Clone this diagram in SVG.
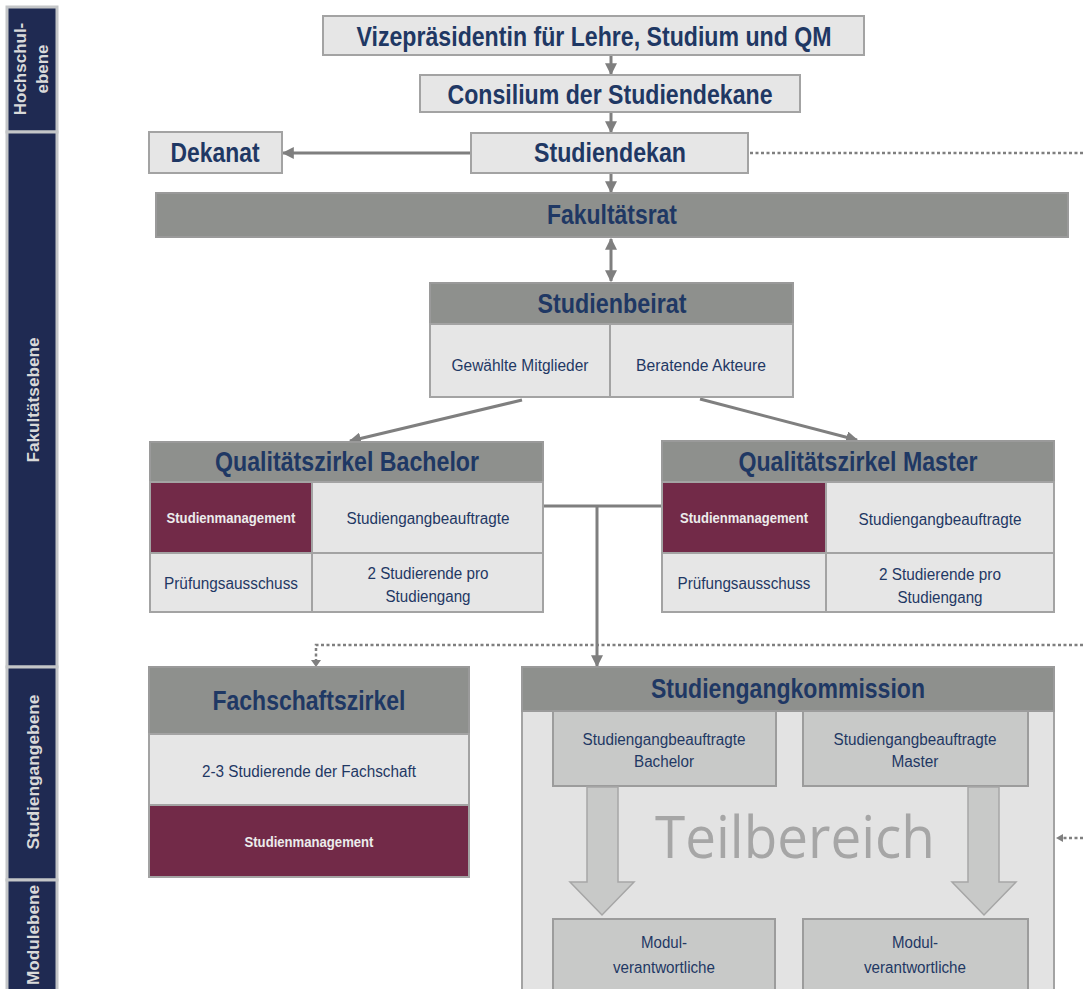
<svg xmlns="http://www.w3.org/2000/svg" width="1083" height="989" viewBox="0 0 1083 989">
<defs>
<style>
.lt{fill:#e6e6e6;stroke:#a3a3a3;stroke-width:2}
.hd{fill:#8e908d;stroke:#9a9a9a;stroke-width:2}
.mr{fill:#722a48;stroke:#a3a3a3;stroke-width:2}
.ib{fill:#c8c9c8;stroke:#9c9c9c;stroke-width:2}
.side{fill:#1f2a52;stroke:#c4c6c8;stroke-width:3}
.t{font-family:"Liberation Sans Narrow","Liberation Sans",Arial,sans-serif;fill:#1f3864;text-anchor:middle}
.b{font-weight:bold}
.big{font-size:27px}
.mid{font-size:16px}
.w{fill:#ececec;font-weight:bold;font-size:14px}
.st{font-family:"Liberation Sans Narrow","Liberation Sans",Arial,sans-serif;fill:#d9d9d9;font-weight:bold;font-size:17px;text-anchor:middle}
.con{stroke:#7f7f7f;stroke-width:3;fill:none}
.dot{stroke:#7f7f7f;stroke-width:2.5;fill:none;stroke-dasharray:3 2.5}
</style>
<marker id="ah" viewBox="0 0 10 10" refX="9" refY="5" markerWidth="4" markerHeight="4" orient="auto-start-reverse">
<path d="M0,0 L10,5 L0,10 z" fill="#7f7f7f"/>
</marker>
</defs>
<rect width="1083" height="989" fill="#ffffff"/>

<g id="sidebar">
<rect class="side" x="7" y="7" width="50" height="125"/>
<rect class="side" x="7" y="132" width="50" height="535"/>
<rect class="side" x="7" y="667" width="50" height="213"/>
<rect class="side" x="7" y="880" width="50" height="115"/>
<text class="st" transform="translate(26,69) rotate(-90)">Hochschul-</text>
<text class="st" transform="translate(48,69) rotate(-90)">ebene</text>
<text class="st" transform="translate(39,400) rotate(-90)" textLength="125" lengthAdjust="spacingAndGlyphs">Fakultätsebene</text>
<text class="st" transform="translate(39,772) rotate(-90)" textLength="155" lengthAdjust="spacingAndGlyphs">Studiengangebene</text>
<text class="st" transform="translate(39,935) rotate(-90)" textLength="100" lengthAdjust="spacingAndGlyphs">Modulebene</text>
</g>

<g id="connectors">
<line class="con" x1="611" y1="55" x2="611" y2="74" marker-end="url(#ah)"/>
<line class="con" x1="611" y1="112" x2="611" y2="132" marker-end="url(#ah)"/>
<line class="con" x1="471" y1="153" x2="283" y2="153" marker-end="url(#ah)"/>
<line class="dot" x1="750" y1="153" x2="1083" y2="153"/>
<line class="con" x1="611" y1="173" x2="611" y2="192" marker-end="url(#ah)"/>
<line class="con" x1="611" y1="239" x2="611" y2="281" marker-start="url(#ah)" marker-end="url(#ah)"/>
<line class="con" x1="522" y1="400" x2="350" y2="441" marker-end="url(#ah)"/>
<line class="con" x1="700" y1="399" x2="857" y2="440" marker-end="url(#ah)"/>
<line class="con" x1="543" y1="506" x2="662" y2="506"/>
<line class="con" x1="597" y1="506" x2="597" y2="666" marker-end="url(#ah)"/>
<path class="dot" d="M1083,645 H316 V662"/>
<path d="M311,660 L321,660 L316,667 z" fill="#7f7f7f"/>
<line class="dot" x1="1083" y1="838" x2="1062" y2="838"/>
<path d="M1056,838 L1063,834 L1063,842 z" fill="#7f7f7f"/>
</g>

<g id="vizepraesidentin">
<rect class="lt" x="323" y="16" width="541" height="39"/>
<text class="t b big" x="594" y="46" textLength="475" lengthAdjust="spacingAndGlyphs">Vizepräsidentin für Lehre, Studium und QM</text>
</g>
<g id="consilium">
<rect class="lt" x="420" y="75" width="380" height="37"/>
<text class="t b big" x="610" y="104" textLength="325" lengthAdjust="spacingAndGlyphs">Consilium der Studiendekane</text>
</g>
<g id="dekanat">
<rect class="lt" x="149" y="132" width="133" height="41"/>
<text class="t b big" x="215" y="162" textLength="89" lengthAdjust="spacingAndGlyphs">Dekanat</text>
</g>
<g id="studiendekan">
<rect class="lt" x="471" y="133" width="277" height="40"/>
<text class="t b big" x="610" y="162" textLength="152" lengthAdjust="spacingAndGlyphs">Studiendekan</text>
</g>
<g id="fakultaetsrat">
<rect class="hd" x="156" y="193" width="912" height="44"/>
<text class="t b big" x="612" y="224" textLength="130" lengthAdjust="spacingAndGlyphs">Fakultätsrat</text>
</g>

<g id="studienbeirat">
<rect class="hd" x="430" y="283" width="363" height="41"/>
<rect class="lt" x="430" y="324" width="180" height="73"/>
<rect class="lt" x="610" y="324" width="183" height="73"/>
<text class="t b big" x="612" y="313" textLength="149" lengthAdjust="spacingAndGlyphs">Studienbeirat</text>
<text class="t mid" x="520" y="371" textLength="137" lengthAdjust="spacingAndGlyphs">Gewählte Mitglieder</text>
<text class="t mid" x="701" y="371" textLength="130" lengthAdjust="spacingAndGlyphs">Beratende Akteure</text>
</g>

<g id="qz-bachelor">
<rect class="hd" x="150" y="442" width="393" height="40"/>
<rect class="mr" x="150" y="482" width="162" height="71"/>
<rect class="lt" x="312" y="482" width="231" height="71"/>
<rect class="lt" x="150" y="553" width="162" height="59"/>
<rect class="lt" x="312" y="553" width="231" height="59"/>
<text class="t b big" x="347" y="471" textLength="264" lengthAdjust="spacingAndGlyphs">Qualitätszirkel Bachelor</text>
<text class="t w" x="231" y="523" textLength="129" lengthAdjust="spacingAndGlyphs">Studienmanagement</text>
<text class="t mid" x="428" y="524" textLength="163" lengthAdjust="spacingAndGlyphs">Studiengangbeauftragte</text>
<text class="t mid" x="231" y="589" textLength="134" lengthAdjust="spacingAndGlyphs">Prüfungsausschuss</text>
<text class="t mid" x="428" y="579" textLength="121" lengthAdjust="spacingAndGlyphs">2 Studierende pro</text>
<text class="t mid" x="428" y="602" textLength="85" lengthAdjust="spacingAndGlyphs">Studiengang</text>
</g>

<g id="qz-master">
<rect class="hd" x="662" y="441" width="392" height="41"/>
<rect class="mr" x="662" y="482" width="164" height="71"/>
<rect class="lt" x="826" y="482" width="228" height="71"/>
<rect class="lt" x="662" y="553" width="164" height="59"/>
<rect class="lt" x="826" y="553" width="228" height="59"/>
<text class="t b big" x="858" y="471" textLength="239" lengthAdjust="spacingAndGlyphs">Qualitätszirkel Master</text>
<text class="t w" x="744" y="523" textLength="128" lengthAdjust="spacingAndGlyphs">Studienmanagement</text>
<text class="t mid" x="940" y="525" textLength="163" lengthAdjust="spacingAndGlyphs">Studiengangbeauftragte</text>
<text class="t mid" x="744" y="589" textLength="133" lengthAdjust="spacingAndGlyphs">Prüfungsausschuss</text>
<text class="t mid" x="940" y="580" textLength="122" lengthAdjust="spacingAndGlyphs">2 Studierende pro</text>
<text class="t mid" x="940" y="603" textLength="85" lengthAdjust="spacingAndGlyphs">Studiengang</text>
</g>

<g id="fachschaftszirkel">
<rect class="hd" x="149" y="667" width="320" height="67"/>
<rect class="lt" x="149" y="734" width="320" height="71"/>
<rect class="mr" x="149" y="805" width="320" height="72"/>
<text class="t b big" x="309" y="710" textLength="193" lengthAdjust="spacingAndGlyphs">Fachschaftszirkel</text>
<text class="t mid" x="309" y="777" textLength="214" lengthAdjust="spacingAndGlyphs">2-3 Studierende der Fachschaft</text>
<text class="t w" x="309" y="847" textLength="129" lengthAdjust="spacingAndGlyphs">Studienmanagement</text>
</g>

<g id="studiengangkommission">
<rect x="522" y="711" width="532" height="290" fill="#e3e3e3" stroke="#a3a3a3" stroke-width="2"/>
<rect class="hd" x="522" y="667" width="532" height="44"/>
<text class="t b big" x="788" y="698" textLength="274" lengthAdjust="spacingAndGlyphs">Studiengangkommission</text>
<text x="795" y="858" font-family="'Open Sans','Liberation Sans',sans-serif" font-size="58" fill="#a6a6a6" text-anchor="middle" textLength="280" lengthAdjust="spacingAndGlyphs">Teilbereich</text>
<g id="sgb-bachelor">
<rect class="ib" x="553" y="711" width="223" height="75"/>
<text class="t mid" x="664" y="745" textLength="163" lengthAdjust="spacingAndGlyphs">Studiengangbeauftragte</text>
<text class="t mid" x="664" y="767" textLength="60" lengthAdjust="spacingAndGlyphs">Bachelor</text>
</g>
<g id="sgb-master">
<rect class="ib" x="803" y="711" width="225" height="75"/>
<text class="t mid" x="915" y="745" textLength="163" lengthAdjust="spacingAndGlyphs">Studiengangbeauftragte</text>
<text class="t mid" x="915" y="767" textLength="47" lengthAdjust="spacingAndGlyphs">Master</text>
</g>
<path d="M587,787 H618 V882 H634 L602,915 L570,882 H587 Z" fill="#c8c9c8" stroke="#a6a6a6" stroke-width="1.5"/>
<path d="M968,787 H999 V882 H1016 L984,915 L952,882 H968 Z" fill="#c8c9c8" stroke="#a6a6a6" stroke-width="1.5"/>
<g id="modul-bachelor">
<rect class="ib" x="553" y="919" width="222" height="80"/>
<text class="t mid" x="664" y="948" textLength="46" lengthAdjust="spacingAndGlyphs">Modul-</text>
<text class="t mid" x="664" y="973" textLength="102" lengthAdjust="spacingAndGlyphs">verantwortliche</text>
</g>
<g id="modul-master">
<rect class="ib" x="803" y="919" width="225" height="80"/>
<text class="t mid" x="915" y="948" textLength="46" lengthAdjust="spacingAndGlyphs">Modul-</text>
<text class="t mid" x="915" y="973" textLength="102" lengthAdjust="spacingAndGlyphs">verantwortliche</text>
</g>
</g>
</svg>
